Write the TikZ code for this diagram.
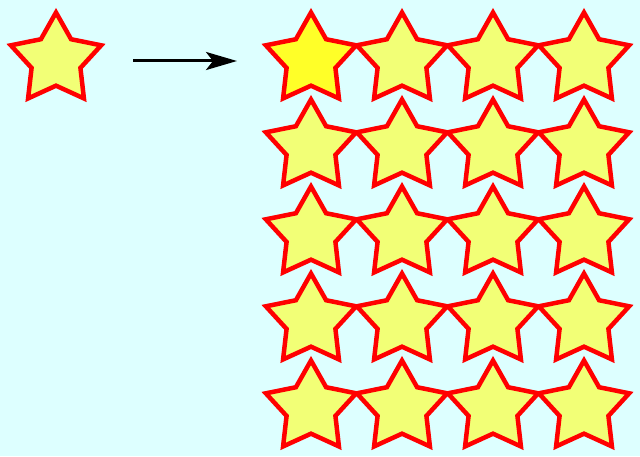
\documentclass[tikz,border=0pt]{standalone}
\usetikzlibrary{positioning,shapes.geometric,arrows.meta}
\definecolor{bgcyan}{RGB}{221,255,255}
\definecolor{palestar}{RGB}{242,255,118}
\definecolor{brightstar}{RGB}{255,255,40}
\tikzset{node distance =87pt and 91pt ,on grid ,
starshape/.style ={star, star points=5, star point ratio=1.85, minimum size=95pt,
  inner sep=0pt, outer sep=0pt, draw=red, line width=4.5pt, fill=palestar},
bright/.style ={starshape, fill=brightstar},
bigarrow/.style ={-{Stealth[length=31pt,width=18pt,inset=7pt]}, line width=3pt}}
\begin{document}
\begin{tikzpicture}[x=1pt,y=1pt]
\fill[bgcyan] (0,0) rectangle (640,456);
\node[starshape] (src) at (56,396) {};
\node[bright] (s11) at (311,396) {};
\node[starshape] (s12) [right=of s11] {};
\node[starshape] (s13) [right=of s12] {};
\node[starshape] (s14) [right=of s13] {};
\node[starshape] (s21) [below=of s11] {};
\node[starshape] (s22) [right=of s21] {};
\node[starshape] (s23) [right=of s22] {};
\node[starshape] (s24) [right=of s23] {};
\node[starshape] (s31) [below=of s21] {};
\node[starshape] (s32) [right=of s31] {};
\node[starshape] (s33) [right=of s32] {};
\node[starshape] (s34) [right=of s33] {};
\node[starshape] (s41) [below=of s31] {};
\node[starshape] (s42) [right=of s41] {};
\node[starshape] (s43) [right=of s42] {};
\node[starshape] (s44) [right=of s43] {};
\node[starshape] (s51) [below=of s41] {};
\node[starshape] (s52) [right=of s51] {};
\node[starshape] (s53) [right=of s52] {};
\node[starshape] (s54) [right=of s53] {};
% arrow between the single star and the grid
\coordinate (tail) at (133,395);
\coordinate (head) at (237,395);
\draw[bigarrow] (tail) -- (head);
\end{tikzpicture}
\end{document}
